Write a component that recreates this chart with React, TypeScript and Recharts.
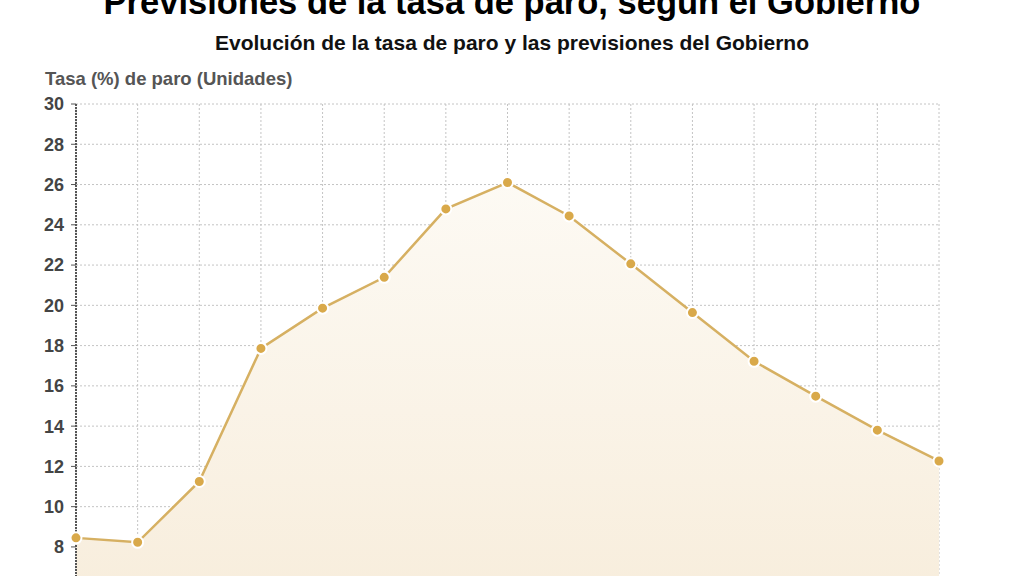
import React from 'react'
import { ComposedChart, Area, XAxis, YAxis, CartesianGrid } from 'recharts'

const years = ['2006', '2007', '2008', '2009', '2010', '2011', '2012', '2013', '2014', '2015', '2016', '2017', '2018', '2019', '2020']
const paro = [8.45, 8.23, 11.25, 17.86, 19.86, 21.39, 24.79, 26.1, 24.44, 22.06, 19.64, 17.22, 15.49, 13.8, 12.27]
const yTicks = [0, 2, 4, 6, 8, 10, 12, 14, 16, 18, 20, 22, 24, 26, 28, 30]

const data = years.map((year, i) => ({ year, paro: paro[i] }))

const font = '"Liberation Sans", Arial, Helvetica, sans-serif'

export default function App() {
  return (
    <div style={{ position: 'fixed', top: 0, left: 0, width: 1024, height: 576, overflow: 'hidden', background: '#fff', fontFamily: font }}>
      <div style={{ position: 'absolute', top: -15, left: 0, width: 1024, textAlign: 'center', fontSize: 34.5, lineHeight: '34.5px', fontWeight: 'bold', color: '#000', whiteSpace: 'nowrap' }}>
        Previsiones de la tasa de paro, según el Gobierno
      </div>
      <div style={{ position: 'absolute', top: 32, left: 0, width: 1024, textAlign: 'center', fontSize: 21, lineHeight: '21px', fontWeight: 'bold', color: '#111', whiteSpace: 'nowrap' }}>
        Evolución de la tasa de paro y las previsiones del Gobierno
      </div>
      <div style={{ position: 'absolute', top: 70, left: 45, fontSize: 18.5, lineHeight: '18.5px', fontWeight: 'bold', color: '#555', whiteSpace: 'nowrap' }}>
        Tasa (%) de paro (Unidades)
      </div>
      <div style={{ position: 'absolute', top: 0, left: 0 }}>
        <ComposedChart width={1024} height={748} data={data} margin={{ top: 104, right: 85, left: 0, bottom: 10 }}>
          <defs>
            <linearGradient id="paroFill" x1="0" y1="0" x2="0" y2="1">
              <stop offset="0%" stopColor="#fdfaf4" />
              <stop offset="100%" stopColor="#f6ead6" />
            </linearGradient>
          </defs>
          <CartesianGrid stroke="#c4c4c4" strokeDasharray="2 2" />
          <XAxis
            dataKey="year"
            height={30}
            tick={{ fontSize: 18, fontWeight: 'bold', fill: '#444', fontFamily: font }}
            axisLine={{ stroke: '#555' }}
          />
          <YAxis
            width={76}
            domain={[0, 30]}
            ticks={yTicks}
            interval={0}
            tickSize={5}
            tickMargin={7}
            tick={{ fontSize: 18, fontWeight: 'bold', fill: '#444', fontFamily: font }}
            tickLine={{ stroke: '#555' }}
            axisLine={{ stroke: '#555', strokeWidth: 2, strokeDasharray: '2 1' }}
          />
          <Area
            type="linear"
            dataKey="paro"
            stroke="#d6b062"
            strokeWidth={2.5}
            fill="url(#paroFill)"
            fillOpacity={1}
            dot={{ r: 5.5, fill: '#d9a94a', stroke: '#fff', strokeWidth: 2, fillOpacity: 1 }}
            activeDot={false}
            isAnimationActive={false}
          />
        </ComposedChart>
      </div>
    </div>
  )
}
